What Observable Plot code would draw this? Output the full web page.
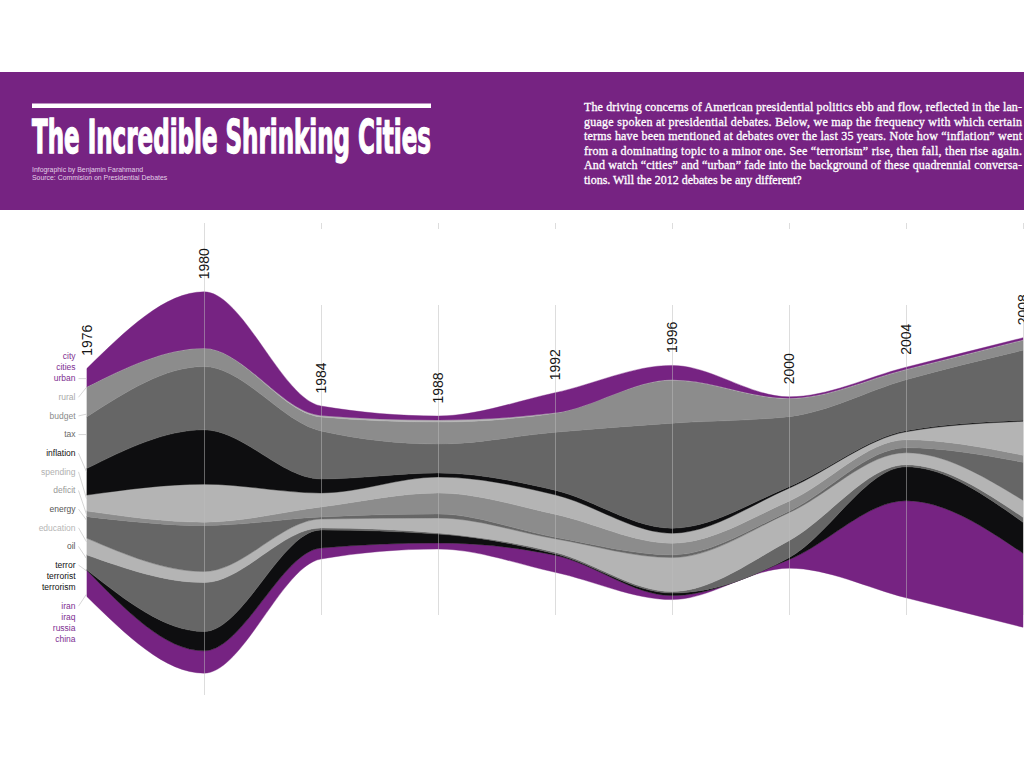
<!DOCTYPE html>
<html><head><meta charset="utf-8">
<script src="https://cdn.jsdelivr.net/npm/d3@7"></script>
<script src="https://cdn.jsdelivr.net/npm/@observablehq/plot@0.6"></script>
<style>
html,body{margin:0;padding:0;background:#fff;width:1024px;height:768px;overflow:hidden;}
#header{position:absolute;left:0;top:72px;width:1024px;height:138px;background:#762382;}
#header svg{display:block;}
#chart{position:absolute;left:0;top:210px;}
</style></head><body>
<div id="header">
<svg width="1024" height="138" xmlns="http://www.w3.org/2000/svg">
  <rect x="32" y="31.5" width="399" height="4.5" fill="#fff"/>
  <text x="32" y="81.3" textLength="399" lengthAdjust="spacingAndGlyphs" fill="#fff" stroke="#fff" stroke-width="1.4"
    style="font-family:'Liberation Sans Narrow','DejaVu Sans Condensed','Liberation Sans',sans-serif;font-weight:bold;font-size:47px;">The Incredible Shrinking Cities</text>
  <g style="font-family:'Liberation Sans',Arial,sans-serif;font-size:6.9px;" fill="#e2cfe6">
    <text x="32" y="100">Infographic by Benjamin Farahmand</text>
    <text x="32" y="108">Source: Commision on Presidential Debates</text>
  </g>
  <g style="font-family:'Liberation Serif','Times New Roman',serif;font-size:12px;" fill="#fff" stroke="#fff" stroke-width="0.3">
    <text x="584" y="39" textLength="438" lengthAdjust="spacing">The driving concerns of American presidential politics ebb and flow, reflected in the lan-</text>
    <text x="584" y="53.5" textLength="438" lengthAdjust="spacing">guage spoken at presidential debates. Below, we map the frequency with which certain</text>
    <text x="584" y="68" textLength="438" lengthAdjust="spacing">terms have been mentioned at debates over the last 35 years. Note how “inflation” went</text>
    <text x="584" y="82.5" textLength="438" lengthAdjust="spacing">from a dominating topic to a minor one. See “terrorism” rise, then fall, then rise again.</text>
    <text x="584" y="97" textLength="438" lengthAdjust="spacing">And watch “cities” and “urban” fade into the background of these quadrennial conversa-</text>
    <text x="584" y="111.5">tions. Will the 2012 debates be any different?</text>
  </g>
</svg>
</div>
<div id="chart"></div>
<script>
// ---- data (band thickness per debate year) ----
const years     = [1976, 1980, 1984, 1988, 1992, 1996, 2000, 2004, 2008];
const urban     = [18.3, 56.3,  9.5,  4.0, 20.0, 14.3,  1.3,  2.0,  2.0];
const rural     = [ 0.3,  0.3,  1.5,  2.0,  0.5,  0.5,  0.5,  0.5,  0.5];
const budget    = [29.7, 18.1, 14.0, 22.0, 19.0, 43.0, 18.0, 10.0, 10.0];
const tax       = [51.7, 63.3, 48.0, 29.0, 58.0, 105.0, 70.0, 51.0, 70.0];
const inflation = [26.7, 54.3, 14.0,  4.0,  4.5,  5.0,  1.5,  1.0,  1.0];
const spending  = [16.0, 38.0, 14.0, 16.0, 19.5, 10.0, 13.0,  8.0, 34.0];
const deficit   = [ 5.6,  3.4, 10.0, 21.0, 23.0, 11.7, 10.0,  8.0,  7.0];
const energy    = [21.7, 46.0,  2.0,  4.0,  1.5,  2.7,  1.5,  5.0, 38.0];
const education = [16.7, 11.0,  9.0, 15.0, 13.5, 34.0, 28.0, 12.0, 17.0];
const oil       = [15.0, 49.0,  2.0,  1.0,  1.5,  1.5, 17.0,  2.0,  5.0];
const terror    = [ 0.5, 19.3, 18.0,  9.0,  1.5,  2.5,  2.0, 34.0, 31.0];
const foreign   = [26.1, 22.3, 11.0,  6.0, 17.0,  4.0,  8.5, 97.0, 74.0];

// bands, top to bottom, and the words each one gathers
const bandNames = ["urban","rural","budget","tax","inflation","spending","deficit","energy","education","oil","terror","foreign"];
const bandWords = [["city","cities","urban"],["rural"],["budget"],["tax"],["inflation"],["spending"],["deficit"],["energy"],["education"],["oil"],["terror","terrorist","terrorism"],["iran","iraq","russia","china"]];
const leaderWords = ["urban","rural","budget","tax","inflation","spending","deficit","energy","education","oil","terror","iran"];

// ---- styles ----
const PURPLE = "#762382", LIGHT = "#b4b4b4", MID = "#8c8c8c", DARK = "#666666", BLACK = "#0e0e10";
const bandFill = {urban: PURPLE, rural: LIGHT, budget: MID, tax: DARK, inflation: BLACK, spending: LIGHT,
  deficit: MID, energy: DARK, education: LIGHT, oil: DARK, terror: BLACK, foreign: PURPLE};
const labelFill = {urban: "#7e2f92", rural: "#a9a9a9", budget: "#8a8a8a", tax: "#6a6a6a", inflation: "#111",
  spending: "#b0b0b0", deficit: "#999", energy: "#555", education: "#b6b6b6", oil: "#555", terror: "#111", foreign: "#7e2f92"};

const series = {urban, rural, budget, tax, inflation, spending, deficit, energy, education, oil, terror, foreign};
const rows = years.map((year, i) => {
  const r = {year};
  for (const k of bandNames) r[k] = series[k][i];
  return r;
});
const stacked = d3.stack().keys(bandNames.slice().reverse()).offset(d3.stackOffsetSilhouette)(rows);
const areaData = stacked.flatMap(layer => layer.map((d, i) => ({term: layer.key, year: years[i], y1: d[0], y2: d[1]})));
const tops = years.map((year, i) => ({year, top: d3.max(stacked, l => l[i][1])}));

// ---- layout (pixels; y scale is 1 unit = 1 px, 0 = stream centre) ----
const X0 = 87, X1 = 1023;
const pxPerYear = (X1 - X0) / (years[years.length - 1] - years[0]);
const label = {first: 126.8, line: 11.2, group: 18.65};
const labels = [];
let ly = label.first;
bandWords.forEach((words, g) => {
  if (g > 0) ly -= label.group;
  words.forEach((w, j) => {
    if (j > 0) ly -= label.line;
    labels.push({word: w, band: bandNames[g], y: ly, x: years[0]});
  });
});
const leaders = labels.filter(d => leaderWords.includes(d.word)).map(d => {
  const layer = stacked.find(l => l.key === d.band)[0];
  const lo = layer[0], hi = layer[1];
  const inset = Math.min(3, (hi - lo) / 2);
  const yt = Math.max(lo + inset, Math.min(hi - inset, d.y));
  return {x1: years[0] - 9 / pxPerYear, y1: d.y, x2: years[0] - 1 / pxPerYear, y2: yt};
});
const guide = {tickTop: 259.5, tickBottom: 253.5, lineTop: 177.5, lineBottom: -132.5, longBottom: -212.5};

const chart = Plot.plot({
  width: 1024, height: 558,
  x: {domain: [years[0], years[years.length - 1]], range: [X0, X1], axis: null},
  y: {domain: [-272.5, 272.5], range: [545, 0], axis: null},
  color: {type: "identity"},
  style: {background: "transparent", overflow: "visible"},
  marks: [
    Plot.areaY(areaData, {x: "year", y1: "y1", y2: "y2", z: "term", fill: d => bandFill[d.term],
      stroke: d => bandFill[d.term], strokeWidth: 0.4, curve: "monotone-x"}),
    Plot.ruleX(years.slice(2), {y1: guide.tickBottom, y2: guide.tickTop, stroke: "#bbb", strokeOpacity: 0.5}),
    Plot.ruleX(years.slice(2), {y1: guide.lineBottom, y2: guide.lineTop, stroke: "#bbb", strokeOpacity: 0.5}),
    Plot.ruleX([years[1]], {y1: guide.longBottom, y2: guide.tickTop, stroke: "#bbb", strokeOpacity: 0.5}),
    Plot.link(leaders, {x1: "x1", y1: "y1", x2: "x2", y2: "y2", stroke: "#c4c4c4", strokeWidth: 0.7}),
    Plot.text(labels, {x: "x", y: "y", text: "word", textAnchor: "end", dx: -12, fill: d => labelFill[d.band],
      fontSize: 8.5, fontFamily: "'Liberation Sans', Arial, sans-serif"}),
    Plot.text(tops, {x: "year", y: "top", text: d => String(d.year), rotate: -90, textAnchor: "start",
      lineAnchor: "middle", dy: -13, fontSize: 14, fill: "#151515", fontFamily: "'Liberation Sans', Arial, sans-serif"})
  ]
});
document.getElementById("chart").appendChild(chart);
</script>
</body></html>
